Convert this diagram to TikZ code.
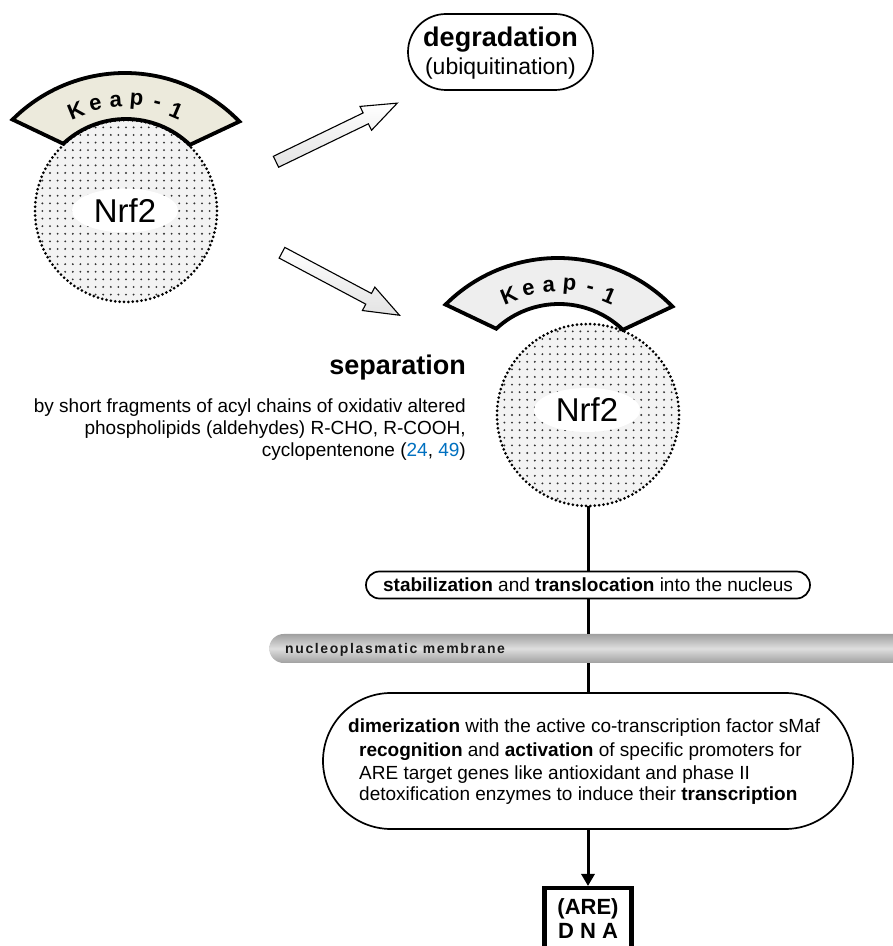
\documentclass[tikz,border=0pt]{standalone}
\usepackage{fontspec}
\setmainfont{Liberation Sans}
\usetikzlibrary{shapes.misc,shapes.geometric,shapes.arrows,arrows.meta}
\definecolor{keapL}{RGB}{236,234,220}
\definecolor{keapR}{RGB}{238,238,238}
\definecolor{refblue}{RGB}{0,112,192}
\definecolor{nrfgray}{RGB}{243,243,243}
\definecolor{dotcol}{RGB}{50,50,50}
\definecolor{memdark}{RGB}{160,160,160}
\definecolor{memlight}{RGB}{222,222,222}
\newcommand\fsz[1]{\fontsize{#1pt}{#1pt}\selectfont}
\begin{document}
\begin{tikzpicture}[x=1pt,y=1pt,
  nrfdisc/.style={circle, minimum size=182pt, inner sep=0pt, fill=nrfgray},
  nrfrim/.style={draw=black, line width=3pt, dash pattern=on 0pt off 4.4pt, line cap=round},
  nrfoval/.style={ellipse, fill=white, minimum width=106pt, minimum height=44pt, inner sep=0pt, font=\fsz{33}},
  keapband/.style={draw=black, line width=3.8pt},
  keapletter/.style={font=\fsz{22}\bfseries, inner sep=0pt},
  blockarrow/.style={single arrow, draw=black, line width=1.1pt, text height=5.5pt, text depth=5.5pt,
    single arrow head extend=7.2pt, single arrow tip angle=41.5, inner sep=0pt,
    top color=white, bottom color=gray!22},
  pill/.style={rounded rectangle, draw=black, line width=1.7pt, fill=white, inner sep=0pt},
  body/.style={font=\fsz{19}, inner sep=0pt},
  axis/.style={line width=3pt},
]
\useasboundingbox (0,0) rectangle (893,946);
\clip (0,0) rectangle (893,946);

% ---------- left complex ----------
\node[nrfdisc] (discL) at (126,735) {};
\begin{scope}
  \clip (discL.center) circle (90);
  \foreach \gx in {-12,...,12}{\foreach \gy in {-12,...,12}{
    \fill[dotcol] (126+\gx*7.6, 735+\gy*7.6) circle (1.05);}}
\end{scope}
\draw[nrfrim] (discL.center) circle (91);
\draw[keapband, fill=keapL] ([shift={(125,714)}]135:159) arc[start angle=135,end angle=44,radius=159]
  -- ([shift={(126,735)}]46:92) arc[start angle=46,end angle=133,radius=92] -- cycle;
\foreach \ch [count=\i from 0] in {K,e,a,p,-,1}{
  \pgfmathsetmacro\ang{112-9*\i}
  \pgfmathsetmacro\rot{\ang-90}
  \node[keapletter, rotate=\rot] (kL\i) at ([shift={(125,714)}]\ang:131) {\ch};
}
\node[nrfoval] (nrfL) at (125,735.5) {Nrf2};

% ---------- right complex ----------
\node[nrfdisc] (discR) at (588,531) {};
\begin{scope}
  \clip (discR.center) circle (90);
  \foreach \gx in {-12,...,12}{\foreach \gy in {-12,...,12}{
    \fill[dotcol] (588+\gx*7.6, 531+\gy*7.6) circle (1.05);}}
\end{scope}
\draw[nrfrim] (discR.center) circle (91);
\draw[keapband, fill=keapR] ([shift={(558,529)}]135:159) arc[start angle=135,end angle=44,radius=159]
  -- ([shift={(559,550)}]46:92) arc[start angle=46,end angle=133,radius=92] -- cycle;
\foreach \ch [count=\i from 0] in {K,e,a,p,-,1}{
  \pgfmathsetmacro\ang{112-9*\i}
  \pgfmathsetmacro\rot{\ang-90}
  \node[keapletter, rotate=\rot] (kR\i) at ([shift={(558,529)}]\ang:131) {\ch};
}
\node[nrfoval] (nrfR) at (587,536) {Nrf2};

% ---------- degradation ----------
\node[pill, minimum width=185pt, minimum height=76pt] (deg) at (500.5,894) {};
\node[font=\fsz{27}\bfseries, anchor=base, inner sep=0pt] (degA) at (500.5,899) {degradation};
\node[font=\fsz{23}, anchor=base, inner sep=0pt] (degB) at (500.5,871) {(ubiquitination)};

% ---------- block arrows ----------
\node[blockarrow, minimum height=134.7pt, rotate=25.8, anchor=tail] (arrUp) at (275.5,784) {};
\node[blockarrow, minimum height=133.1pt, rotate=-28, anchor=tail] (arrDown) at (281.5,693.5) {};

% ---------- separation text ----------
\node[font=\fsz{27}\bfseries, anchor=base east, inner sep=0pt] (sep) at (466,571) {separation};
\node[body, anchor=base east] (sep1) at (466,533.5) {by short fragments of acyl chains of oxidativ altered};
\node[body, anchor=base east] (sep2) at (466,511) {phospholipids (aldehydes) R-CHO, R-COOH,};
\node[body, anchor=base east] (sep3) at (466,489) {cyclopentenone (\textcolor{refblue}{24}, \textcolor{refblue}{49})};

% ---------- stabilization ----------
\node[pill, minimum width=444pt, minimum height=27pt, font=\fsz{19}] (stab) at (588,361)
  {\textbf{stabilization} and \textbf{translocation} into the nucleus};

% ---------- membrane ----------
\node[rounded rectangle, rounded rectangle right arc=none, minimum height=29pt, minimum width=660pt,
  inner sep=0pt, top color=memdark, bottom color=memdark, middle color=memlight, anchor=west] (mem) at (269,297.5) {};
\node[font=\fsz{14}\bfseries\addfontfeature{LetterSpace=11.5}, anchor=base west, inner sep=0pt, text=black!90]
  (memlbl) at (285,292) {nucleoplasmatic membrane};

% ---------- nucleus box ----------
\node[pill, minimum width=530pt, minimum height=136pt] (big) at (588,185) {};
\node[body, anchor=base west] (big1) at (348,213) {\textbf{dimerization} with the active co-transcription factor sMaf};
\node[body, anchor=base west] (big2) at (359,189) {\textbf{recognition} and \textbf{activation} of specific promoters for};
\node[body, anchor=base west] (big3) at (359,166) {ARE target genes like antioxidant and phase II};
\node[body, anchor=base west] (big4) at (359,145) {detoxification enzymes to induce their \textbf{transcription}};

% ---------- DNA ----------
\node[draw=black, line width=4.5pt, minimum width=87pt, minimum height=80pt, inner sep=0pt, anchor=north] (dna) at (588,60) {};
\node[font=\fsz{22}\bfseries, anchor=base, inner sep=0pt] (dnaA) at (588,31) {(ARE)};
\node[font=\fsz{22}\bfseries, anchor=base, inner sep=0pt] (dnaB) at (588,7) {D N A};

% ---------- connectors ----------
\draw[axis] (discR.south) -- (stab.north);
\draw[axis] (stab.south) -- (mem.north -| stab.south);
\draw[axis] (mem.south -| stab.south) -- (big.north);
\draw[axis, -{Triangle[width=13pt,length=12pt]}] (big.south) -- (dna.north);
\end{tikzpicture}
\end{document}
